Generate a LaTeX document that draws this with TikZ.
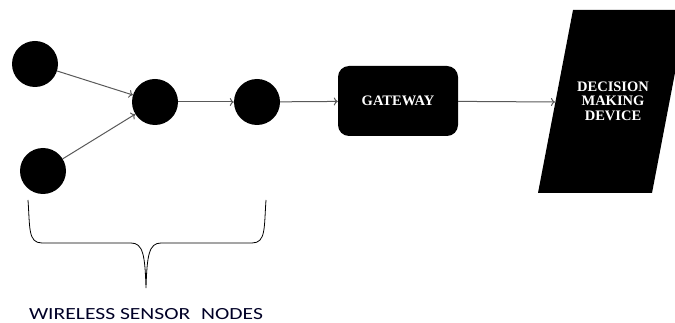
\documentclass[tikz,border=0pt]{standalone}
\usepackage{fontspec}
\setmainfont{Liberation Serif}
\newfontfamily\labelfont{Carlito}
\usetikzlibrary{positioning,arrows.meta}
\tikzset{
  sensor/.style={circle,fill=black,minimum size=46pt,inner sep=0pt},
  link/.style={-{To[length=4pt,width=8pt]},draw=black!65,line width=1pt},
}
\begin{document}
\begin{tikzpicture}[x=1pt,y=-1pt]
\useasboundingbox (0,0) rectangle (675,323);
% sensor nodes
\node[sensor] (s1) at (35,64) {};
\node[sensor] (s2) at (43,171) {};
\node[sensor] (s3) at (155,102) {};
\node[sensor] (s4) at (257,102) {};
% gateway
\node[fill=black,rounded corners=11pt,minimum width=120pt,minimum height=70pt,
  text=white,font=\bfseries\fontsize{14.5}{16}\selectfont] (gw) at (398,101) {GATEWAY};
% decision making device
\fill (538,193) -- (573,10) -- (687,10) -- (652,193) -- cycle;
\node[text=white,align=center,font=\bfseries\fontsize{14.5}{14.5}\selectfont] (dmd) at (613,101) {DECISION\\MAKING\\DEVICE};
\coordinate (dmdin) at (555,102);
\draw[link] (s1) -- (s3);
\draw[link] (s2) -- (s3);
\draw[link] (s3) -- (s4);
\draw[link] (s4) -- (gw);
\draw[link] (gw) -- (dmdin);
% brace
\coordinate (tip) at (146,288);
\draw[line width=0.8pt] (28,200) .. controls (30,228) and (28,243) .. (42,243) -- (131,243)
  .. controls (143,243) and (145,255) .. (tip)
  .. controls (147,255) and (149,243) .. (161,243) -- (252,243)
  .. controls (266,243) and (264,228) .. (266,200);
\node[font=\labelfont\fontsize{17}{20}\selectfont,text=black!85!blue,inner sep=0pt,below=20pt of tip] (wsn) {\scalebox{1.27}[1]{WIRELESS SENSOR\hspace{0.5em}NODES}};
\end{tikzpicture}
\end{document}
